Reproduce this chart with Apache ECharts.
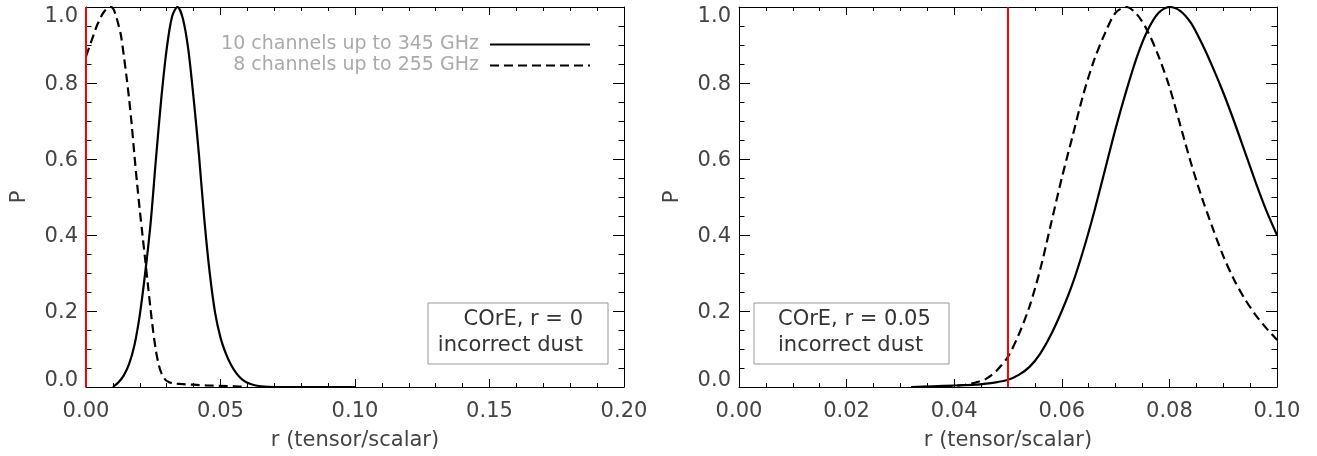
<!DOCTYPE html>
<html>
<head>
<meta charset="utf-8">
<script src="https://cdn.jsdelivr.net/npm/echarts@6/dist/echarts.min.js"></script>
<style>
  html, body { margin: 0; padding: 0; background: #ffffff; }
  #chart { width: 1317px; height: 456px; }
</style>
</head>
<body>
<div id="chart"></div>
<script>
// left panel: COrE, r = 0
var rLeftSolid = [0.010, 0.012, 0.014, 0.016, 0.018, 0.020, 0.022, 0.024, 0.026, 0.028, 0.030, 0.032, 0.034, 0.036, 0.038, 0.040, 0.042, 0.044, 0.046, 0.048, 0.050, 0.052, 0.054, 0.056, 0.058, 0.060, 0.062, 0.065, 0.070, 0.080, 0.090, 0.100];
var pLeftSolid = [0.0, 0.012, 0.03, 0.06, 0.11, 0.19, 0.30, 0.43, 0.60, 0.76, 0.89, 0.975, 1.0, 0.97, 0.89, 0.76, 0.61, 0.44, 0.30, 0.195, 0.13, 0.088, 0.057, 0.035, 0.02, 0.011, 0.006, 0.002, 0.0, 0.0, 0.0, 0.0];
var rLeftDashed = [0.000, 0.001, 0.002, 0.003, 0.004, 0.005, 0.006, 0.007, 0.008, 0.009, 0.010, 0.011, 0.012, 0.013, 0.014, 0.015, 0.016, 0.017, 0.018, 0.019, 0.020, 0.021, 0.022, 0.023, 0.024, 0.025, 0.026, 0.027, 0.028, 0.029, 0.030, 0.032, 0.035, 0.040, 0.045, 0.050, 0.055, 0.060];
var pLeftDashed = [0.87, 0.89, 0.91, 0.93, 0.95, 0.965, 0.98, 0.99, 0.997, 1.0, 0.997, 0.98, 0.955, 0.925, 0.875, 0.82, 0.76, 0.69, 0.61, 0.535, 0.465, 0.40, 0.335, 0.27, 0.205, 0.145, 0.095, 0.06, 0.037, 0.024, 0.016, 0.01, 0.008, 0.006, 0.004, 0.003, 0.002, 0.0];

// right panel: COrE, r = 0.05
var rRightSolid = [0.032, 0.036, 0.040, 0.044, 0.046, 0.048, 0.050, 0.052, 0.054, 0.056, 0.058, 0.060, 0.062, 0.064, 0.066, 0.068, 0.070, 0.072, 0.074, 0.076, 0.078, 0.080, 0.082, 0.084, 0.086, 0.088, 0.090, 0.092, 0.094, 0.096, 0.098, 0.100];
var pRightSolid = [0.0, 0.002, 0.004, 0.006, 0.009, 0.013, 0.019, 0.032, 0.053, 0.088, 0.138, 0.20, 0.272, 0.36, 0.46, 0.57, 0.68, 0.78, 0.87, 0.94, 0.985, 1.0, 0.99, 0.958, 0.905, 0.843, 0.775, 0.70, 0.62, 0.54, 0.465, 0.40];
var rRightDashed = [0.038, 0.040, 0.042, 0.044, 0.046, 0.048, 0.050, 0.052, 0.054, 0.056, 0.058, 0.060, 0.062, 0.064, 0.066, 0.068, 0.070, 0.072, 0.074, 0.076, 0.078, 0.080, 0.082, 0.084, 0.086, 0.088, 0.090, 0.092, 0.094, 0.096, 0.098, 0.100];
var pRightDashed = [0.0, 0.003, 0.006, 0.012, 0.022, 0.045, 0.08, 0.138, 0.212, 0.31, 0.43, 0.55, 0.66, 0.77, 0.86, 0.93, 0.985, 1.0, 0.98, 0.935, 0.87, 0.79, 0.69, 0.59, 0.50, 0.42, 0.345, 0.283, 0.232, 0.19, 0.155, 0.124];

var rTrue = [0, 0.05];
var seriesNames = ['10 channels up to 345 GHz', '8 channels up to 255 GHz'];
var boxLines = [['COrE, r = 0', 'incorrect dust'], ['COrE, r = 0.05', 'incorrect dust']];

var FONT = "'DejaVu Sans', sans-serif";
var DASH = [9, 5];
var LABEL_COLOR = '#444';

function zip(xs, ys) {
  var out = [];
  for (var i = 0; i < xs.length; i++) {
    out.push([xs[i], ys[i]]);
  }
  return out;
}

function axisBase(gi, max, interval, minorSplit, tickLen, minorLen) {
  return {
    gridIndex: gi,
    type: 'value',
    min: 0,
    max: max,
    interval: interval,
    axisLine: { show: true, onZero: false, lineStyle: { color: '#000', width: 1 } },
    axisTick: { show: true, inside: true, length: tickLen, lineStyle: { color: '#000' } },
    minorTick: { show: true, splitNumber: minorSplit, length: minorLen, lineStyle: { color: '#000' } },
    splitLine: { show: false },
    minorSplitLine: { show: false }
  };
}

function xAxisPair(gi, max, interval, minorSplit) {
  var bottom = axisBase(gi, max, interval, minorSplit, 8, 4);
  bottom.position = 'bottom';
  bottom.name = 'r (tensor/scalar)';
  bottom.nameLocation = 'middle';
  bottom.nameGap = 43;
  bottom.nameTextStyle = { fontSize: 21, color: LABEL_COLOR, fontFamily: FONT };
  bottom.axisLabel = {
    margin: 14,
    fontSize: 21,
    color: LABEL_COLOR,
    fontFamily: FONT,
    formatter: function(v) { return v.toFixed(2); }
  };
  var top = axisBase(gi, max, interval, minorSplit, 8, 4);
  top.position = 'top';
  top.axisLabel = { show: false };
  return [bottom, top];
}

function richLabel(pad) {
  return { fontSize: 21, color: LABEL_COLOR, fontFamily: FONT, padding: pad };
}

function yAxisPair(gi) {
  var left = axisBase(gi, 1, 0.2, 4, 11, 5.5);
  left.position = 'left';
  left.name = 'P';
  left.nameLocation = 'middle';
  left.nameRotate = 90;
  left.nameGap = 56;
  left.nameTextStyle = { fontSize: 21, color: LABEL_COLOR, fontFamily: FONT };
  left.axisLabel = {
    margin: 8,
    formatter: function(v) {
      if (v >= 0.999) return '{top|1.0}';
      if (v <= 0.001) return '{bot|0.0}';
      return '{mid|' + v.toFixed(1) + '}';
    },
    rich: {
      top: richLabel([19, 0, 0, 0]),
      bot: richLabel([0, 0, 12, 0]),
      mid: richLabel([3, 0, 0, 0])
    }
  };
  var right = axisBase(gi, 1, 0.2, 4, 11, 5.5);
  right.position = 'right';
  right.axisLabel = { show: false };
  return [left, right];
}

function redLine(x) {
  return {
    silent: true,
    symbol: ['none', 'none'],
    label: { show: false },
    lineStyle: { color: '#ff0000', width: 2, type: 'solid' },
    data: [{ xAxis: x }]
  };
}

function curve(name, xi, yi, data, dashed, mark) {
  var s = {
    name: name,
    type: 'line',
    xAxisIndex: xi,
    yAxisIndex: yi,
    data: data,
    showSymbol: false,
    symbol: 'none',
    smooth: 0.3,
    animation: false,
    z: 3,
    lineStyle: { color: '#000', width: 2.2, type: dashed ? DASH : 'solid' },
    itemStyle: { color: '#000' }
  };
  if (mark !== undefined) s.markLine = redLine(mark);
  return s;
}

function legendItem(i, top) {
  return {
    orient: 'vertical',
    align: 'right',
    right: 726,
    top: top,
    padding: 0,
    itemWidth: 100,
    itemHeight: 14,
    selectedMode: false,
    formatter: function(n) { return n + ' '; },
    textStyle: { fontSize: 19, color: '#aaa', fontFamily: FONT },
    data: [{
      name: seriesNames[i],
      itemStyle: { opacity: 0, borderWidth: 0 },
      lineStyle: { color: '#000', width: 2, type: i == 0 ? 'solid' : DASH, opacity: 1 }
    }]
  };
}

function boxGraphic(x, y, w, h, lines, textX, align) {
  return {
    type: 'group',
    children: [{
      type: 'rect',
      shape: { x: x, y: y, width: w, height: h },
      style: { fill: '#fff', stroke: '#999', lineWidth: 1 },
      z: 10
    }, {
      type: 'text',
      x: textX,
      y: y + 17,
      style: { text: lines[0], font: '21px ' + FONT, fill: '#333', textAlign: align, textVerticalAlign: 'middle' },
      z: 11
    }, {
      type: 'text',
      x: textX,
      y: y + 43,
      style: { text: lines[1], font: '21px ' + FONT, fill: '#333', textAlign: align, textVerticalAlign: 'middle' },
      z: 11
    }]
  };
}

var xl = xAxisPair(0, 0.2, 0.05, 5);
var xr = xAxisPair(1, 0.1, 0.02, 4);
var yl = yAxisPair(0);
var yr = yAxisPair(1);

var chart = echarts.init(document.getElementById('chart'), null, { renderer: 'canvas' });
chart.setOption({
  backgroundColor: '#ffffff',
  animation: false,
  grid: [
    { left: 86, top: 7, width: 538, height: 382, containLabel: false },
    { left: 739, top: 7, width: 538, height: 382, containLabel: false }
  ],
  xAxis: [xl[0], xl[1], xr[0], xr[1]],
  yAxis: [yl[0], yl[1], yr[0], yr[1]],
  legend: [legendItem(0, 35), legendItem(1, 56)],
  series: [
    curve(seriesNames[0], 0, 0, zip(rLeftSolid, pLeftSolid), false, rTrue[0]),
    curve(seriesNames[1], 0, 0, zip(rLeftDashed, pLeftDashed), true),
    curve(seriesNames[0], 2, 2, zip(rRightSolid, pRightSolid), false, rTrue[1]),
    curve(seriesNames[1], 2, 2, zip(rRightDashed, pRightDashed), true)
  ],
  graphic: [
    boxGraphic(428, 303, 180, 61, boxLines[0], 583, 'right'),
    boxGraphic(754, 303, 195, 61, boxLines[1], 778, 'left')
  ]
});
</script>
</body>
</html>
